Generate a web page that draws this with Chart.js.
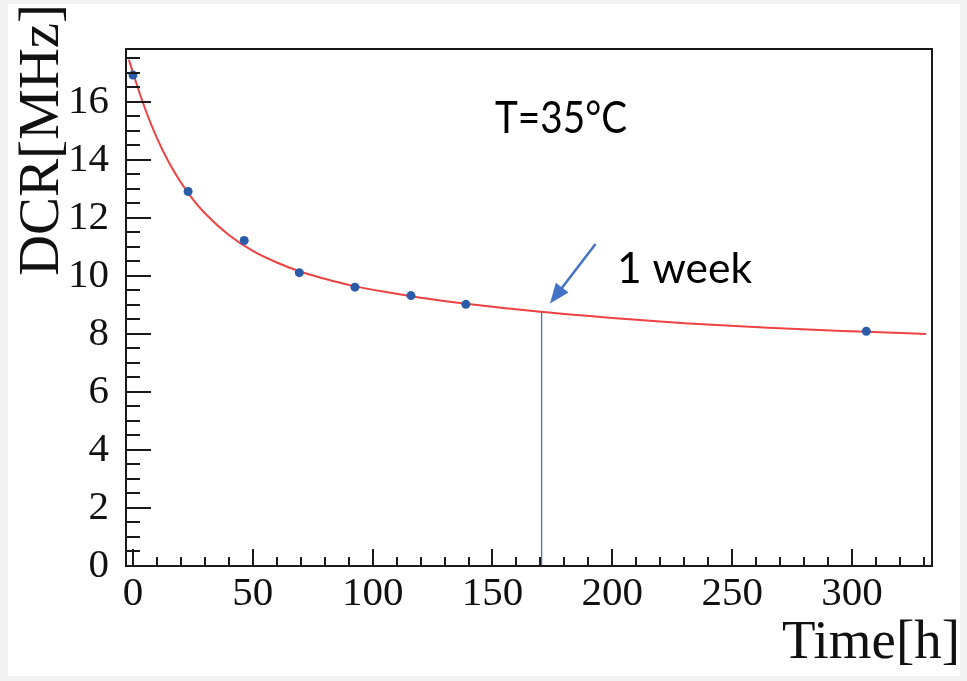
<!DOCTYPE html>
<html>
<head>
<meta charset="utf-8">
<script src="https://cdn.jsdelivr.net/npm/chart.js@4.4.1/dist/chart.umd.min.js"></script>
<style>
  html, body { margin: 0; padding: 0; background: #f2f2f2; }
  #wrap { width: 967px; height: 681px; }
</style>
</head>
<body>
<div id="wrap"><canvas id="dcr-chart" width="967" height="681"></canvas></div>
<script>
// measured dark count rate vs. time at 35 degC
const timeH = [0, 23, 46.4, 69.4, 92.6, 116, 138.9, 306];
const dcrMHz = [16.92, 12.91, 11.22, 10.11, 9.61, 9.32, 9.02, 8.09];

// fitted curve, sampled along its length
const fitT = [-1.7, 0, 5, 10, 15, 20, 25, 30, 40, 50, 60, 70, 80, 90, 105, 120, 140, 170, 200, 230, 265, 300, 331];
const fitDCR = [17.45, 17.0, 15.77, 14.75, 13.91, 13.22, 12.64, 12.16, 11.41, 10.86, 10.46, 10.14, 9.9, 9.69, 9.45, 9.25, 9.03, 8.76, 8.55, 8.37, 8.21, 8.09, 8.0];

// one-week marker
const weekT = 170.5;
const weekDCR = 8.76;

const xTicks = [0, 50, 100, 150, 200, 250, 300];
const yTicks = [0, 2, 4, 6, 8, 10, 12, 14, 16];

const serif = '"Liberation Serif", "Times New Roman", serif';
const sans = 'Lato, "Open Sans", sans-serif';

// draw text stretched/squeezed to a given width
const fitText = (ctx, text, x, y, width, font, angle = 0) => {
  ctx.save();
  ctx.font = font;
  const w = ctx.measureText(text).width;
  ctx.translate(x, y);
  ctx.rotate(angle);
  ctx.scale(width / w, 1);
  ctx.textBaseline = 'alphabetic';
  ctx.textAlign = 'left';
  ctx.fillText(text, 0, 0);
  ctx.restore();
};

const rootFrame = {
  id: 'rootFrame',
  beforeDraw(chart) {
    const { ctx, width, height } = chart;
    ctx.save();
    ctx.fillStyle = '#f2f2f2';
    ctx.fillRect(0, 0, width, height);
    ctx.fillStyle = '#ffffff';
    ctx.fillRect(8, 4, 952, 672);
    ctx.restore();
  },
  afterDraw(chart) {
    const { ctx, chartArea: a, scales: { x, y } } = chart;
    ctx.save();

    // frame and inward ticks
    ctx.strokeStyle = '#1a1a1a';
    ctx.lineWidth = 2;
    ctx.strokeRect(a.left, a.top, a.right - a.left, a.bottom - a.top);
    ctx.beginPath();
    for (let v = 0; v <= y.max; v += 0.5) {
      const py = Math.round(y.getPixelForValue(v));
      const len = v % 2 === 0 ? 25 : 14;
      ctx.moveTo(a.left, py);
      ctx.lineTo(a.left + len, py);
    }
    for (let v = 0; v <= x.max; v += 10) {
      const px = Math.round(x.getPixelForValue(v));
      const len = v % 50 === 0 ? 17 : 9;
      ctx.moveTo(px, a.bottom);
      ctx.lineTo(px, a.bottom - len);
    }
    ctx.stroke();

    // arrow pointing at the one-week line
    const x0 = x.getPixelForValue(193), y0 = y.getPixelForValue(11.1);
    const x1 = x.getPixelForValue(174), y1 = y.getPixelForValue(9.05);
    const ang = Math.atan2(y1 - y0, x1 - x0);
    const head = 20, half = 8;
    ctx.strokeStyle = '#4472c4';
    ctx.fillStyle = '#4472c4';
    ctx.lineWidth = 2.5;
    ctx.beginPath();
    ctx.moveTo(x0, y0);
    ctx.lineTo(x1 - Math.cos(ang) * head * 0.8, y1 - Math.sin(ang) * head * 0.8);
    ctx.stroke();
    ctx.beginPath();
    ctx.moveTo(x1, y1);
    ctx.lineTo(x1 - Math.cos(ang) * head - Math.sin(ang) * half, y1 - Math.sin(ang) * head + Math.cos(ang) * half);
    ctx.lineTo(x1 - Math.cos(ang) * head + Math.sin(ang) * half, y1 - Math.sin(ang) * head - Math.cos(ang) * half);
    ctx.closePath();
    ctx.fill();

    // labels
    ctx.fillStyle = '#000';
    fitText(ctx, 'T=35°C', 495, 133, 132, `44px ${sans}`);
    fitText(ctx, '1 week', 617, 283, 135, `42px ${sans}`);
    ctx.fillStyle = '#111';
    fitText(ctx, 'DCR[MHz]', 58, 276, 272, `57px ${serif}`, -Math.PI / 2);
    fitText(ctx, 'Time[h]', 782, 658, 178, `54px ${serif}`);
    ctx.restore();
  }
};

const tickFont = { family: serif, size: 41 };

new Chart(document.getElementById('dcr-chart'), {
  type: 'scatter',
  data: {
    datasets: [
      {
        label: 'DCR',
        data: timeH.map((t, i) => ({ x: t, y: dcrMHz[i] })),
        showLine: false,
        pointRadius: 4.5,
        pointBackgroundColor: '#2b5ca8',
        pointBorderWidth: 0,
        order: 0
      },
      {
        label: 'fit',
        data: fitT.map((t, i) => ({ x: t, y: fitDCR[i] })),
        showLine: true,
        pointRadius: 0,
        borderColor: 'rgb(238, 66, 66)',
        borderWidth: 2,
        cubicInterpolationMode: 'monotone',
        order: 1
      },
      {
        label: '1 week',
        data: [{ x: weekT, y: 0 }, { x: weekT, y: weekDCR }],
        showLine: true,
        pointRadius: 0,
        borderColor: '#4472c4',
        borderWidth: 1.3,
        order: 2
      }
    ]
  },
  options: {
    responsive: false,
    animation: false,
    layout: { padding: { top: 49, right: 35, left: 0, bottom: 0 } },
    plugins: { legend: { display: false }, tooltip: { enabled: false } },
    scales: {
      x: {
        type: 'linear',
        min: -2.92,
        max: 333.4,
        grid: { display: false },
        border: { display: false },
        afterBuildTicks: (s) => { s.ticks = xTicks.map(v => ({ value: v })); },
        afterFit: (s) => { s.height = 115; },
        ticks: { font: tickFont, color: '#111', padding: -4, maxRotation: 0, autoSkip: false }
      },
      y: {
        min: 0,
        max: 17.82,
        grid: { display: false },
        border: { display: false },
        afterBuildTicks: (s) => { s.ticks = yTicks.map(v => ({ value: v })); },
        afterFit: (s) => { s.width = 126; },
        ticks: { font: tickFont, color: '#111', padding: 9, autoSkip: false }
      }
    }
  },
  plugins: [rootFrame]
});
</script>
</body>
</html>
